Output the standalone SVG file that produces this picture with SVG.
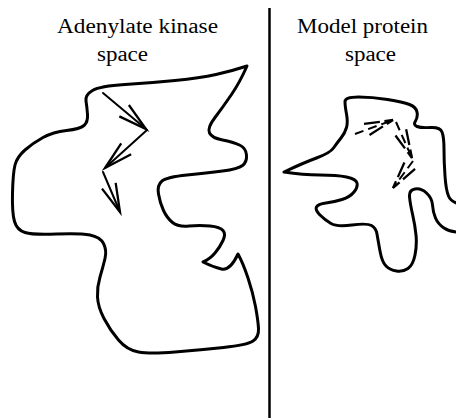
<svg xmlns="http://www.w3.org/2000/svg" width="456" height="418" viewBox="0 0 456 418">
<style>
.lbl{font-family:"Liberation Serif","Times New Roman",serif;font-size:20px;fill:#000}
.blob{fill:none;stroke:#000;stroke-width:3;stroke-linejoin:round;stroke-linecap:round}
.arr{fill:none;stroke:#000;stroke-width:2;stroke-linecap:round}
.darr{fill:none;stroke:#000;stroke-width:2;stroke-dasharray:9 5}
</style>
<defs>
<marker id="head" markerUnits="userSpaceOnUse" markerWidth="40" markerHeight="40" viewBox="-30 -15 35 30" refX="0" refY="0" orient="auto" overflow="visible">
<path d="M-25,-6.5 L0,0 L-25,6.5" fill="none" stroke="#000" stroke-width="2"/>
</marker>
<marker id="dhead" markerUnits="userSpaceOnUse" markerWidth="40" markerHeight="40" viewBox="-30 -15 35 30" refX="0" refY="0" orient="auto" overflow="visible">
<path d="M-25,-5.5 L0,0 L-25,5.5" fill="none" stroke="#000" stroke-width="2" stroke-dasharray="14 4"/>
</marker>
</defs>
<g id="divider"><line x1="269.5" y1="8" x2="269.5" y2="418" stroke="#000" stroke-width="2.5"/></g>
<g id="label-adenylate">
<text class="lbl" x="57" y="33" textLength="161" lengthAdjust="spacingAndGlyphs">Adenylate kinase</text>
<text class="lbl" x="97" y="61" textLength="51" lengthAdjust="spacingAndGlyphs">space</text>
</g>
<g id="label-model">
<text class="lbl" x="297" y="33" textLength="131" lengthAdjust="spacingAndGlyphs">Model protein</text>
<text class="lbl" x="345" y="61" textLength="51" lengthAdjust="spacingAndGlyphs">space</text>
</g>
<g id="adenylate-space">
<path class="blob" d="M86,101 Q85,95 92.5,90.5 Q100,86 125,84.5 Q150,83 175,80.5 Q200,78 216,74.5 Q232,71 247,66 Q240,82 231.5,94.5 Q223,107 215,117.5 Q207,128 209.5,133 Q212,138 222.5,140 Q233,142 239.5,145 Q246,148 246.5,155 Q247,162 242.5,165.5 Q238,169 222.5,171 Q207,173 187,175 Q167,177 162,181 Q157,185 158.5,194 Q160,203 163.5,210.5 Q167,218 172.5,222.5 Q178,227 189,226 Q200,225 210,226 Q220,227 223,230.5 Q226,234 223,240.5 Q220,247 215,253 Q210,259 203,262 Q213,267 221.5,269 Q230,271 238,254 Q243,263 248,278 Q253,293 255.5,306.5 Q258,320 258.5,328.5 Q259,337 253,341 Q247,345 223.5,347.5 Q200,350 175,352 Q150,354 138.5,352 Q127,350 118.5,340 Q110,330 104,318.5 Q98,307 97.5,297 Q97,287 100,277 Q103,267 105,258.5 Q107,250 103.5,243.5 Q100,237 90,235 Q80,233 56.5,234 Q33,235 25,232.5 Q17,230 14.5,221.5 Q12,213 12.5,193 Q13,173 15,165 Q17,157 25,150 Q33,143 43,137.5 Q53,132 66.5,130.5 Q80,129 84,125.5 Q88,122 87.5,114.5 Q87,107 86,101 Z"/>
</g>
<g id="model-space">
<path class="blob" d="M345,101.5 Q345,97 358.5,97 Q372,97 387.5,99.5 Q403,102 409.5,104.5 Q416,107 417,112 Q418,117 415.5,121 Q413,125 417,126.5 Q421,128 430.5,127.5 Q440,127 442,132 Q444,137 444,149.5 Q444,162 445,176 Q446,190 448.5,196 Q451,202 458.5,203.5 Q466,205 466,218.5 Q466,232 458,232 Q450,232 444,228 Q438,224 435.5,218 Q433,212 432.5,205 Q432,198 426.5,193 Q421,188 415,189 Q409,190 409.5,196.5 Q410,203 412.5,214 Q415,225 416,235 Q417,245 415,255 Q413,265 408,268.5 Q403,272 396.5,271 Q390,270 386,266 Q382,262 380,251 Q378,240 377,234 Q376,228 371.5,225.5 Q367,223 352,225 Q337,227 331,223.5 Q325,220 320,215 Q315,210 316.5,207 Q318,204 326,203 Q334,202 342,199.5 Q350,197 354,192 Q358,187 357,183 Q356,179 346.5,177 Q337,175 320,175 Q303,175 284,172 Q303,163 316.5,158 Q330,153 333.5,148 Q337,143 341,138 Q345,133 346.5,127.5 Q348,122 346.5,114 Q345,106 345,101.5 Z"/>
</g>
<g id="connectors">
<line class="arr" x1="103" y1="93" x2="146" y2="129" marker-end="url(#head)"/>
<line class="arr" x1="147" y1="130" x2="105" y2="168" marker-end="url(#head)"/>
<line class="arr" x1="103" y1="172" x2="120" y2="212" marker-end="url(#head)"/>
<line class="darr" x1="355" y1="134" x2="393" y2="120" marker-end="url(#dhead)"/>
<line class="darr" x1="396" y1="122" x2="412" y2="158" marker-end="url(#dhead)"/>
<line class="darr" x1="413" y1="161" x2="393" y2="188" marker-end="url(#dhead)"/>
</g>
</svg>
